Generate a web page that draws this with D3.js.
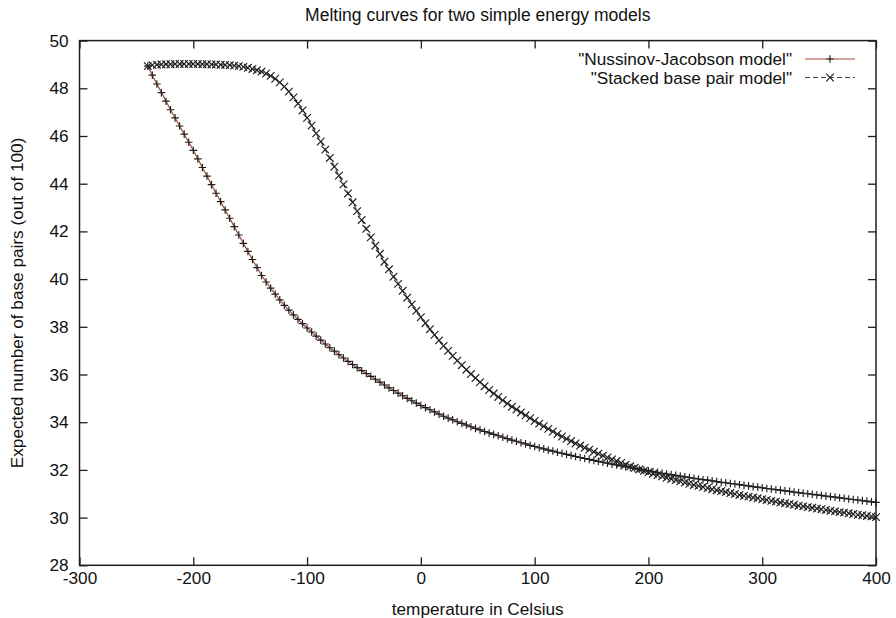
<!DOCTYPE html>
<html>
<head>
<meta charset="utf-8">
<script src="https://cdn.jsdelivr.net/npm/d3@7"></script>
<style>
  body { margin: 0; background: #fff; }
  text { font-family: "Liberation Sans", Arial, Helvetica, sans-serif; fill: #111; }
</style>
</head>
<body>
<svg id="chart" width="896" height="618"></svg>
<script>
// temperatures (Celsius) of the sampled points
const temps = [-240,-236,-232,-228,-224,-220,-216,-212,-208,-204,-200,-196,-192,-188,-184,-180,-176,-172,-168,-164,
  -160,-156,-152,-148,-144,-140,-136,-132,-128,-124,-120,-116,-112,-108,-104,-100,-96,-92,-88,-84,
  -80,-76,-72,-68,-64,-60,-56,-52,-48,-44,-40,-36,-32,-28,-24,-20,-16,-12,-8,-4,
  0,4,8,12,16,20,24,28,32,36,40,44,48,52,56,60,64,68,72,76,
  80,84,88,92,96,100,104,108,112,116,120,124,128,132,136,140,144,148,152,156,
  160,164,168,172,176,180,184,188,192,196,200,204,208,212,216,220,224,228,232,236,
  240,244,248,252,256,260,264,268,272,276,280,284,288,292,296,300,304,308,312,316,
  320,324,328,332,336,340,344,348,352,356,360,364,368,372,376,380,384,388,392,396,400];

// "Nussinov-Jacobson model"
const nussinov = [48.93,48.55,48.18,47.82,47.46,47.10,46.76,46.42,46.08,45.74,45.40,45.04,44.68,44.32,43.96,43.60,43.25,42.90,42.55,42.20,
  41.85,41.50,41.16,40.82,40.48,40.15,39.88,39.62,39.37,39.13,38.90,38.70,38.50,38.31,38.13,37.95,37.78,37.61,37.44,37.28,
  37.12,36.98,36.83,36.69,36.55,36.42,36.29,36.16,36.04,35.92,35.80,35.68,35.56,35.44,35.33,35.22,35.11,35.00,34.90,34.80,
  34.70,34.61,34.52,34.43,34.34,34.25,34.17,34.10,34.02,33.95,33.88,33.81,33.74,33.68,33.61,33.55,33.49,33.43,33.37,33.31,
  33.25,33.20,33.14,33.09,33.03,32.98,32.93,32.88,32.83,32.79,32.74,32.70,32.65,32.61,32.56,32.52,32.48,32.44,32.40,32.36,
  32.32,32.28,32.24,32.21,32.17,32.13,32.10,32.06,32.03,31.99,31.96,31.93,31.90,31.86,31.83,31.80,31.77,31.74,31.71,31.68,
  31.65,31.62,31.59,31.57,31.54,31.51,31.48,31.46,31.43,31.41,31.38,31.35,31.33,31.30,31.28,31.25,31.22,31.20,31.17,31.15,
  31.12,31.10,31.07,31.05,31.02,31.00,30.98,30.95,30.93,30.90,30.88,30.86,30.83,30.81,30.78,30.76,30.74,30.71,30.69,30.66,30.64];

// "Stacked base pair model"
const stacked = [48.93,48.97,48.99,49.00,49.01,49.01,49.02,49.02,49.02,49.02,49.02,49.02,49.01,49.01,49.00,49.00,48.99,48.98,48.97,48.95,
  48.93,48.90,48.86,48.81,48.76,48.70,48.62,48.52,48.40,48.25,48.07,47.86,47.62,47.36,47.07,46.76,46.44,46.11,45.77,45.43,
  45.08,44.71,44.34,43.97,43.59,43.22,42.85,42.48,42.11,41.75,41.40,41.06,40.73,40.41,40.10,39.80,39.51,39.22,38.94,38.67,
  38.40,38.15,37.90,37.66,37.43,37.20,36.99,36.78,36.58,36.39,36.20,36.02,35.85,35.68,35.51,35.35,35.20,35.06,34.92,34.78,
  34.65,34.53,34.41,34.29,34.17,34.05,33.94,33.83,33.72,33.61,33.50,33.40,33.30,33.21,33.11,33.02,32.93,32.85,32.76,32.68,
  32.60,32.52,32.44,32.37,32.29,32.22,32.15,32.09,32.02,31.96,31.90,31.84,31.78,31.73,31.67,31.62,31.57,31.52,31.47,31.42,
  31.37,31.33,31.28,31.24,31.19,31.15,31.11,31.07,31.03,30.99,30.95,30.91,30.88,30.84,30.81,30.77,30.74,30.70,30.67,30.63,
  30.60,30.57,30.54,30.50,30.47,30.44,30.41,30.38,30.35,30.32,30.29,30.26,30.23,30.21,30.18,30.15,30.12,30.10,30.07,30.05,30.02];

const xTicks = [-300, -200, -100, 0, 100, 200, 300, 400];
const yTicks = [28, 30, 32, 34, 36, 38, 40, 42, 44, 46, 48, 50];

const svg = d3.select("#chart");
const plotLeft = 79.5, plotRight = 876, plotTop = 40.6, plotBottom = 565.3;
const tickLen = 8;
const frameColor = "#221c1c";
const fontSize = '17.2px';

const x = d3.scaleLinear().domain([-300, 400]).range([plotLeft, plotRight]);
const y = d3.scaleLinear().domain([28, 50]).range([plotBottom, plotTop]);

// title
svg.append('text')
  .attr('x', (plotLeft + plotRight) / 2)
  .attr('y', 20.5)
  .attr('text-anchor', 'middle')
  .style('font-size', '17.5px')
  .text('Melting curves for two simple energy models');

// axes, gnuplot style: ticks point inward and are mirrored
const axisStyle = g => {
  g.select('.domain').remove();
  g.selectAll('.tick line').attr('stroke', frameColor).attr('stroke-width', 1.3);
  g.selectAll('.tick text').style('font-size', fontSize).attr('fill', '#111');
};
const plain = d => String(d); // keep the ascii hyphen for negatives

svg.append('g')
  .attr('transform', `translate(0,${plotBottom})`)
  .call(d3.axisBottom(x).tickValues(xTicks).tickSizeInner(-tickLen).tickPadding(6).tickFormat(plain))
  .call(axisStyle);

svg.append('g')
  .attr('transform', `translate(0,${plotTop})`)
  .call(d3.axisTop(x).tickValues(xTicks).tickSizeInner(-tickLen).tickFormat(''))
  .call(axisStyle);

svg.append('g')
  .attr('transform', `translate(${plotLeft},0)`)
  .call(d3.axisLeft(y).tickValues(yTicks).tickSizeInner(-tickLen).tickPadding(11).tickFormat(plain))
  .call(axisStyle);

svg.append('g')
  .attr('transform', `translate(${plotRight},0)`)
  .call(d3.axisRight(y).tickValues(yTicks).tickSizeInner(-tickLen).tickFormat(''))
  .call(axisStyle);

// frame around the plot
svg.append('rect')
  .attr('x', plotLeft)
  .attr('y', plotTop)
  .attr('width', plotRight - plotLeft)
  .attr('height', plotBottom - plotTop)
  .attr('fill', 'none')
  .attr('stroke', frameColor)
  .attr('stroke-width', 1.5);

// axis titles
svg.append('text')
  .attr('x', (plotLeft + plotRight) / 2)
  .attr('y', 615)
  .attr('text-anchor', 'middle')
  .style('font-size', fontSize)
  .text('temperature in Celsius');

svg.append('text')
  .attr('transform', `translate(23,${(plotTop + plotBottom) / 2}) rotate(-90)`)
  .attr('text-anchor', 'middle')
  .style('font-size', fontSize)
  .text('Expected number of base pairs (out of 100)');

const markColor = '#1e1e1e';
const plus = (g, px, py, s) => {
  g.append('path')
    .attr('d', `M${px - s},${py}H${px + s}M${px},${py - s}V${py + s}`)
    .attr('stroke', markColor).attr('stroke-width', 1.15);
};
const cross = (g, px, py, s) => {
  g.append('path')
    .attr('d', `M${px - s},${py - s}L${px + s},${py + s}M${px - s},${py + s}L${px + s},${py - s}`)
    .attr('stroke', markColor).attr('stroke-width', 1.15);
};

const series = [
  { name: '"Nussinov-Jacobson model"', values: nussinov, line: '#a34c36', dash: null, marker: plus },
  { name: '"Stacked base pair model"', values: stacked, line: '#444', dash: '5,3', marker: cross }
];

const plot = svg.append('g');
const line = d3.line().x(d => x(d[0])).y(d => y(d[1]));

series.forEach((s, i) => {
  const pts = temps.map((t, j) => [t, s.values[j]]);
  plot.append('path')
    .datum(pts)
    .attr('d', line)
    .attr('fill', 'none')
    .attr('stroke', s.line)
    .attr('stroke-width', 1.2)
    .attr('stroke-dasharray', s.dash);
  const mg = plot.append('g');
  pts.forEach(p => s.marker(mg, x(p[0]), y(p[1]), 3.8));

  // legend entry
  const ly = 59 + i * 18.5;
  svg.append('text')
    .attr('x', 792)
    .attr('y', ly + 6)
    .attr('text-anchor', 'end')
    .style('font-size', fontSize)
    .text(s.name);
  svg.append('line')
    .attr('x1', 805).attr('x2', 855)
    .attr('y1', ly).attr('y2', ly)
    .attr('stroke', s.line)
    .attr('stroke-width', 1.1)
    .attr('stroke-dasharray', s.dash);
  s.marker(svg, 830, ly, 3.8);
});
</script>
</body>
</html>
